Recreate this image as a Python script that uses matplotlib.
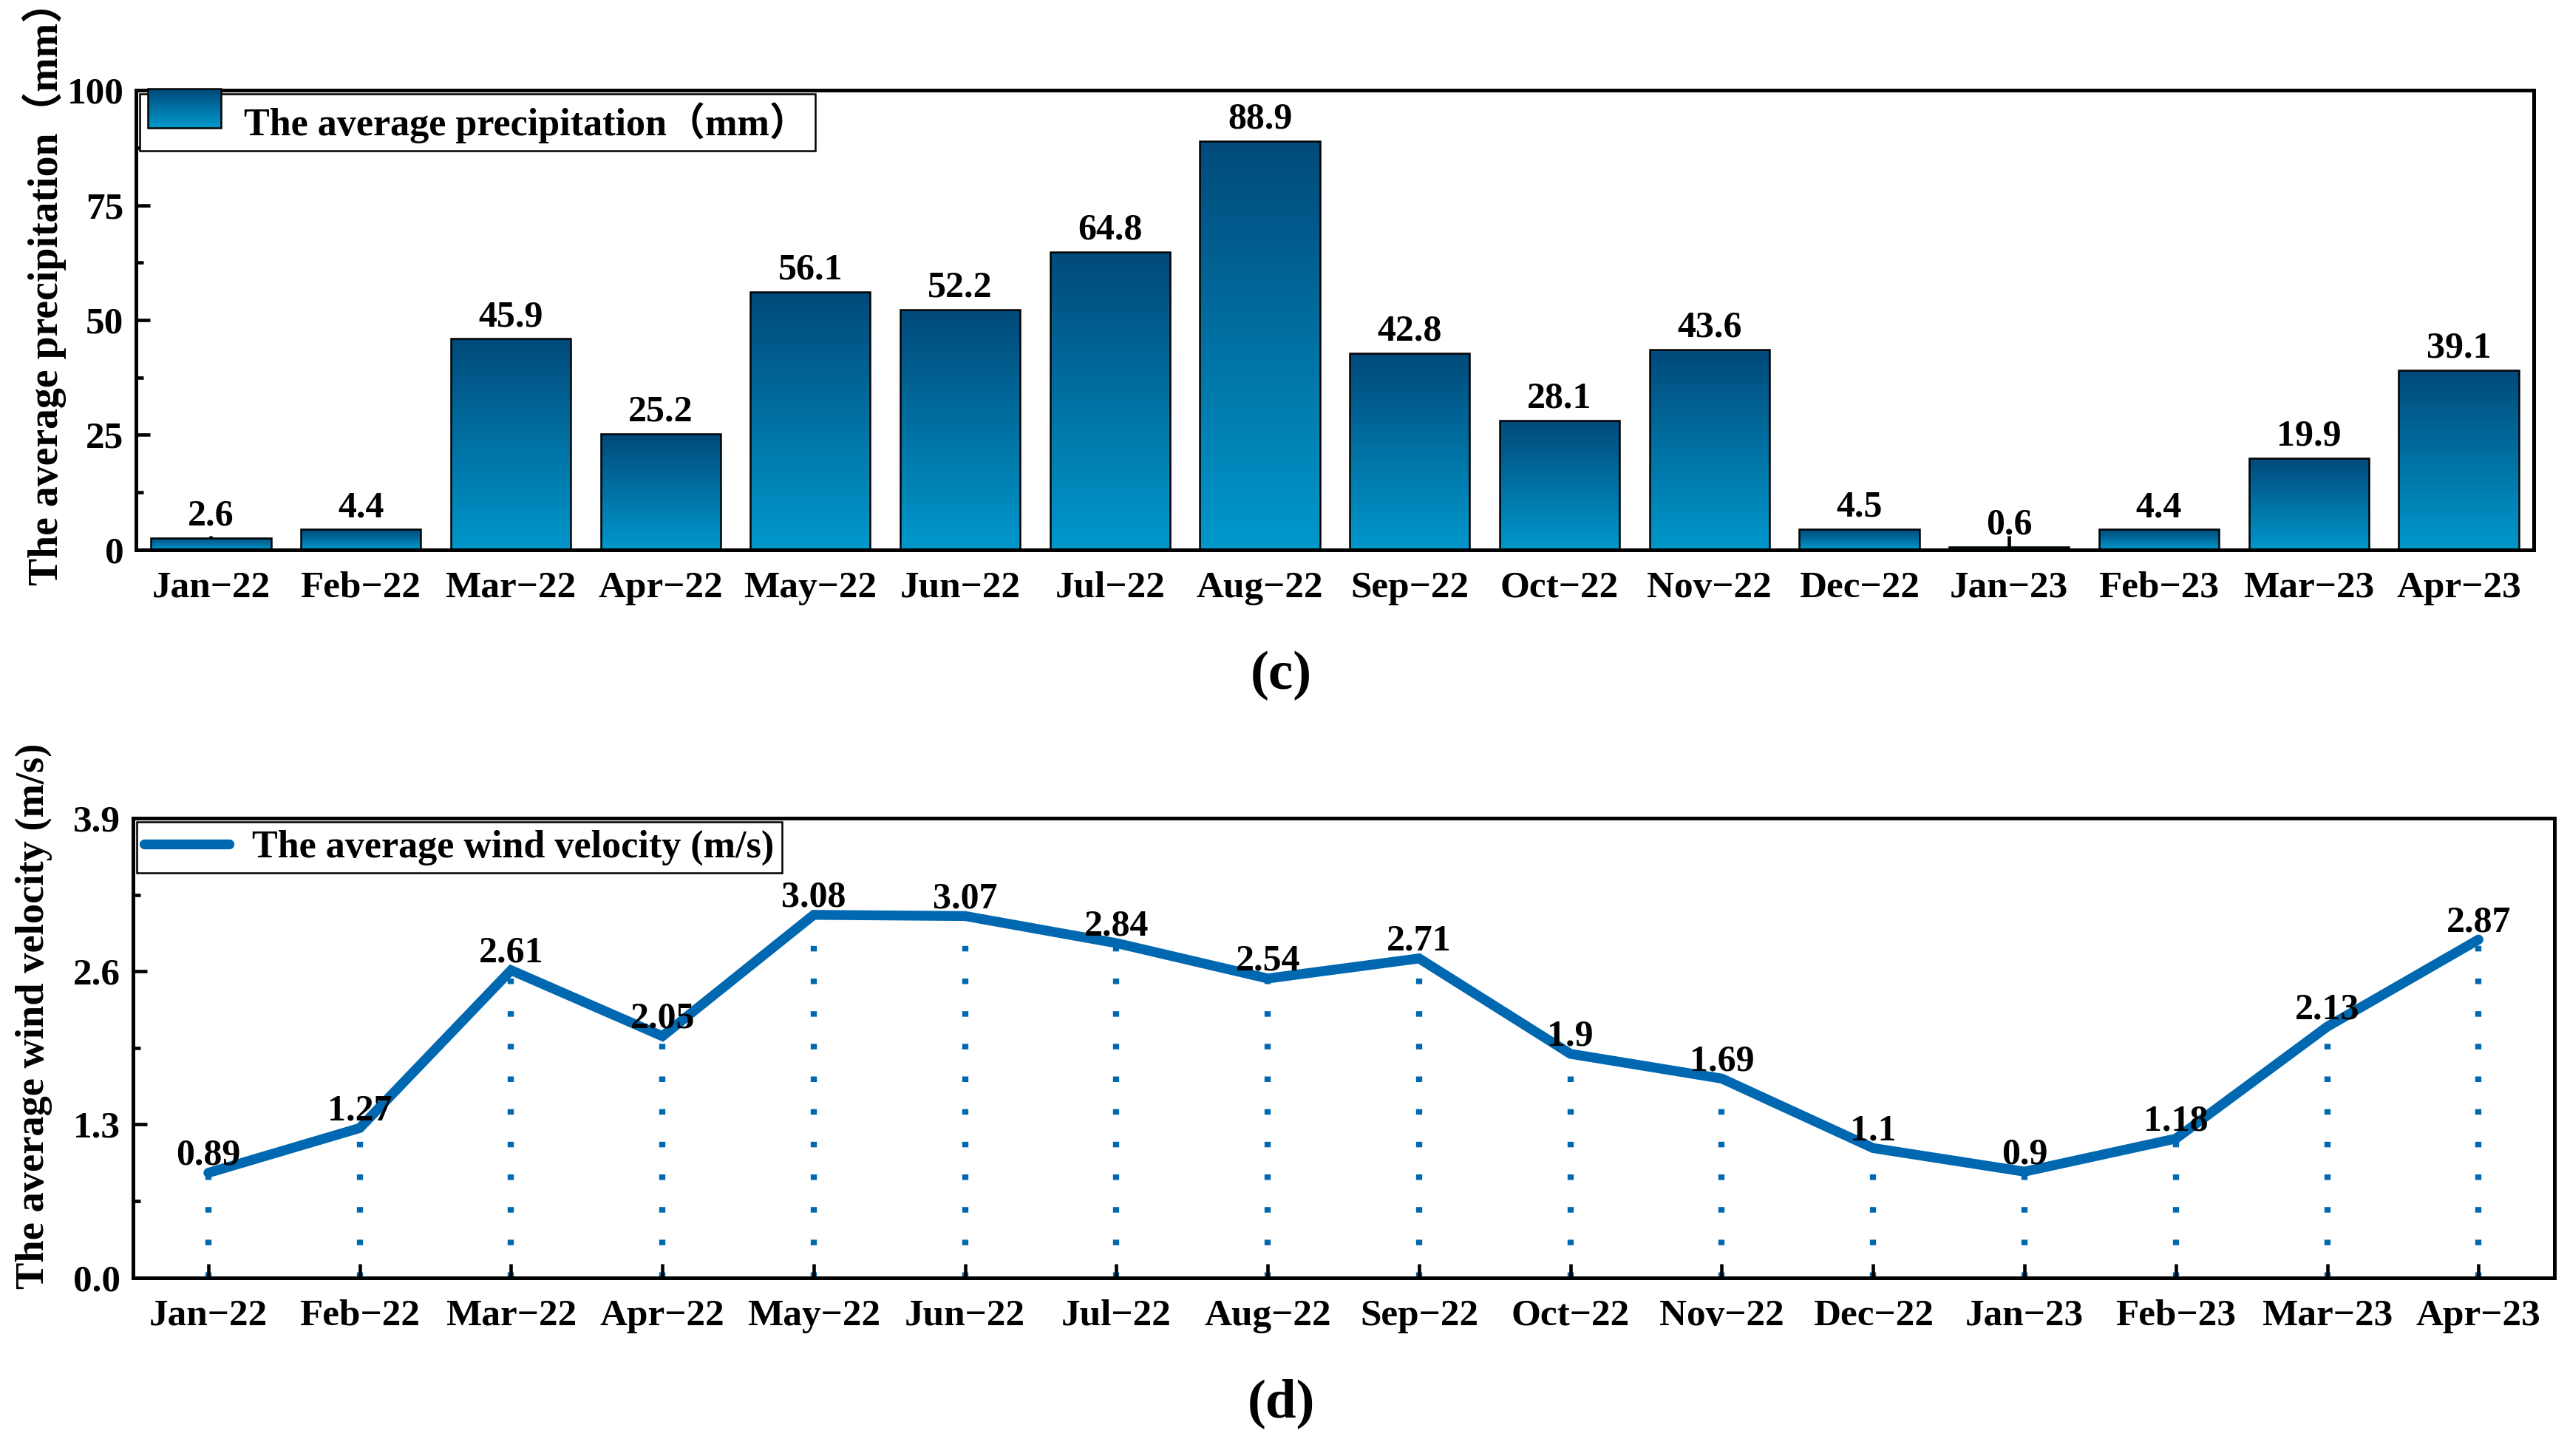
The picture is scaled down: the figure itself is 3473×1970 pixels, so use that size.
import matplotlib
matplotlib.use('Agg')
import matplotlib.pyplot as plt
import numpy as np
from matplotlib.colors import LinearSegmentedColormap
from matplotlib.legend_handler import HandlerBase
from matplotlib.patches import Rectangle
from matplotlib.ticker import MultipleLocator

# data
months = ['Jan−22', 'Feb−22', 'Mar−22', 'Apr−22', 'May−22', 'Jun−22', 'Jul−22', 'Aug−22',
          'Sep−22', 'Oct−22', 'Nov−22', 'Dec−22', 'Jan−23', 'Feb−23', 'Mar−23', 'Apr−23']
precip = [2.6, 4.4, 45.9, 25.2, 56.1, 52.2, 64.8, 88.9, 42.8, 28.1, 43.6, 4.5, 0.6, 4.4, 19.9, 39.1]
wind = [0.89, 1.27, 2.61, 2.05, 3.08, 3.07, 2.84, 2.54, 2.71, 1.9, 1.69, 1.1, 0.9, 1.18, 2.13, 2.87]

serif = ['Liberation Serif', 'Noto Sans CJK SC', 'DejaVu Serif']
plt.rcParams['font.family'] = serif
plt.rcParams['font.weight'] = 'bold'

top_col = '#004A7A'
bot_col = '#0098CC'
line_col = '#0068B0'
grad = LinearSegmentedColormap.from_list('grad', [bot_col, top_col])

fs_tick = 12.3
fs_val = 12
fs_leg = 12.5
fs_lab = 13.1

figure = plt.figure(figsize=(3473 / 300, 1970 / 300), dpi=300)
ax1 = figure.add_axes([0.053, 0.6225, 0.934, 0.3155])
ax2 = figure.add_axes([0.0517, 0.1225, 0.9433, 0.3155])

x = np.arange(len(months))

# ---------------- bar chart (c) ----------------
bars = ax1.bar(x, precip, width=0.8, facecolor='none', edgecolor='black', linewidth=0.6, zorder=3)
g = np.linspace(0, 1, 256).reshape(-1, 1)
for b in bars:
    bx = b.get_x()
    im = ax1.imshow(g, cmap=grad, origin='lower', aspect='auto', zorder=2,
                    extent=[bx, bx + b.get_width(), 0, b.get_height()])
    im.set_clip_path(b)
for i, v in enumerate(precip):
    ax1.annotate(f'{v:g}', (x[i], v), xytext=(0, 1.5), textcoords='offset points',
                 ha='center', va='bottom', fontsize=fs_val, fontweight='bold')

ax1.set_xlim(-0.5, 15.5)
ax1.set_ylim(0, 100)
ax1.yaxis.set_major_locator(MultipleLocator(25))
ax1.yaxis.set_minor_locator(MultipleLocator(12.5))
ax1.set_xticks(x)
ax1.set_xticklabels(months)
ax1.set_ylabel('The average precipitation（mm）', fontsize=13.4, fontweight='bold')
ax1.yaxis.set_label_coords(-0.029, 0.58)


class GradHandler(HandlerBase):
    def create_artists(self, legend, orig_handle, xdescent, ydescent, width, height, fontsize, trans):
        arts = []
        n = 30
        for k in range(n):
            r = Rectangle((xdescent, ydescent + height * k / n), width, height / n + 0.05,
                          facecolor=grad(k / (n - 1)), edgecolor='none', transform=trans)
            arts.append(r)
        arts.append(Rectangle((xdescent, ydescent), width, height, facecolor='none',
                              edgecolor='black', linewidth=0.6, transform=trans))
        return arts


leg1 = ax1.legend([Rectangle((0, 0), 1, 1)], ['The average precipitation（mm）'],
                  handler_map={Rectangle: GradHandler()}, loc='upper left',
                  borderaxespad=0.1, fancybox=False, framealpha=1, edgecolor='black',
                  prop={'size': fs_leg, 'weight': 'bold', 'family': serif},
                  handlelength=1.9, handleheight=1.2, borderpad=0.2, handletextpad=0.6)
leg1.get_frame().set_linewidth(0.6)

# ---------------- line chart (d) ----------------
for i, v in enumerate(wind):
    ax2.plot([x[i], x[i]], [0, v], color=line_col, linewidth=2.0, linestyle=(0, (0.9, 4.4)), zorder=1)
ax2.plot(x, wind, color=line_col, linewidth=3.2, zorder=3, solid_capstyle='round',
         solid_joinstyle='miter', label='The average wind velocity (m/s)')
for i, v in enumerate(wind):
    ax2.annotate(f'{v:g}', (x[i], v), xytext=(0, 0), textcoords='offset points',
                 ha='center', va='bottom', fontsize=fs_val, fontweight='bold', zorder=4)

ax2.set_xlim(-0.5, 15.5)
ax2.set_ylim(0, 3.9)
ax2.set_yticks([0, 1.3, 2.6, 3.9])
ax2.set_yticklabels(['0.0', '1.3', '2.6', '3.9'])
ax2.yaxis.set_minor_locator(MultipleLocator(0.65))
ax2.set_xticks(x)
ax2.set_xticklabels(months)
ax2.set_ylabel('The average wind velocity (m/s)', fontsize=fs_lab, fontweight='bold')
ax2.yaxis.set_label_coords(-0.033, 0.57)
leg2 = ax2.legend(loc='upper left', borderaxespad=0.1, fancybox=False, framealpha=1,
                  edgecolor='black', prop={'size': fs_leg, 'weight': 'bold', 'family': serif},
                  handlelength=2.2, borderpad=0.2, handletextpad=0.6)
leg2.get_frame().set_linewidth(0.6)

for ax in (ax1, ax2):
    for s in ax.spines.values():
        s.set_linewidth(1.2)
    ax.tick_params(axis='both', which='major', direction='in', length=4.5, width=1.1,
                   labelsize=fs_tick)
    ax.tick_params(axis='x', which='major', pad=7)
    ax.tick_params(axis='y', which='major', pad=4)
    ax.tick_params(axis='y', which='minor', direction='in', length=2.5, width=1.1)
    ax.tick_params(axis='x', which='minor', bottom=False)
    for lab in ax.get_xticklabels() + ax.get_yticklabels():
        lab.set_fontweight('bold')

figure.text(0.499, 0.536, '(c)', ha='center', va='center', fontsize=18, fontweight='bold')
figure.text(0.499, 0.036, '(d)', ha='center', va='center', fontsize=18, fontweight='bold')

figure.savefig('out.png', dpi=300)
